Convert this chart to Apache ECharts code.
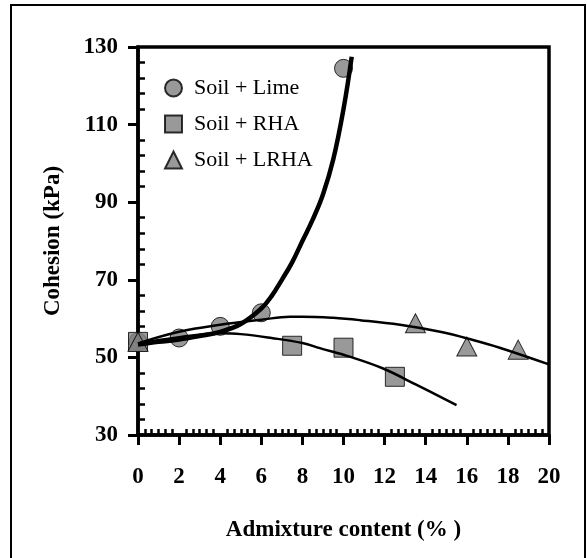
<!DOCTYPE html>
<html>
<head>
<meta charset="utf-8">
<script src="https://cdn.jsdelivr.net/npm/echarts@6/dist/echarts.min.js"></script>
<style>
  html, body { margin: 0; padding: 0; background: #fff; }
  #chart { width: 587px; height: 558px; }
</style>
</head>
<body>
<div id="chart"></div>
<script>
// Measured cohesion values by admixture content
const limeX = [0, 2, 4, 6, 10];
const limeY = [54, 55, 58, 61.5, 124.5];
const rhaX = [0, 7.5, 10, 12.5];
const rhaY = [54, 53, 52.5, 45];
const lrhaX = [0, 13.5, 16, 18.5];
const lrhaY = [54, 58.8, 52.8, 52];

// Fitted trend curves
const limeFitX = [0, 1, 2, 3, 4, 5, 6, 6.5, 7, 7.5, 8, 8.5, 9, 9.5, 10, 10.4];
const limeFitY = [53.3, 54.0, 54.6, 55.5, 56.6, 58.6, 62.6, 65.8, 70, 74.5, 80, 85.5, 92, 101, 114, 127.5];
const rhaFitX = [0, 2, 4, 5, 6.5, 8, 8.85, 10.3, 11.9, 13.56, 15.5];
const rhaFitY = [53.6, 55.2, 56.2, 56, 55, 53.7, 52.4, 50.2, 47.2, 42.9, 37.7];
const lrhaFitX = [0, 2, 4, 6, 7.4, 8, 9.5, 10.8, 12.75, 14.7, 16.3, 17.6, 20];
const lrhaFitY = [53.6, 56.6, 58.4, 59.7, 60.5, 60.5, 60.2, 59.6, 58.4, 56.6, 54.5, 52.5, 48.2];

// Axis ticks
const xTicks = [0, 2, 4, 6, 8, 10, 12, 14, 16, 18, 20];
const yTicks = [30, 50, 70, 90, 110, 130];

const seriesNames = ['Soil + Lime', 'Soil + RHA', 'Soil + LRHA'];

const zip = (xs, ys) => xs.map((x, i) => [x, ys[i]]);

const FONT = 'Liberation Serif';
const GRAY = '#808080';

const markerStyle = { color: GRAY, borderColor: '#000', borderWidth: 1 };

const chart = echarts.init(document.getElementById('chart'), null, { renderer: 'canvas' });

const xStep = xTicks[1] - xTicks[0];
const yStep = yTicks[1] - yTicks[0];

chart.setOption({
  animation: false,
  backgroundColor: '#fff',
  graphic: [{
    type: 'rect',
    shape: { x: 11, y: 5, width: 574, height: 560 },
    style: { fill: 'none', stroke: '#000', lineWidth: 2 },
    silent: true
  }],
  grid: {
    left: 138, top: 47, right: 38, bottom: 123,
    show: true, borderColor: '#000', borderWidth: 3.5, backgroundColor: 'transparent'
  },
  legend: {
    orient: 'vertical',
    left: 159, top: 72,
    itemWidth: 17, itemHeight: 17, itemGap: 14,
    data: [
      { name: seriesNames[0], icon: 'circle' },
      { name: seriesNames[1], icon: 'rect' },
      { name: seriesNames[2], icon: 'triangle' }
    ],
    textStyle: { fontFamily: FONT, fontSize: 22, color: '#000', padding: [0, 0, 0, 7] }
  },
  xAxis: [{
    type: 'value',
    min: xTicks[0], max: xTicks[xTicks.length - 1], interval: xStep,
    name: 'Admixture content (% )',
    nameLocation: 'middle', nameGap: 84,
    nameTextStyle: { fontFamily: FONT, fontSize: 23, fontWeight: 'bold', color: '#000' },
    axisLine: { show: true, lineStyle: { color: '#000', width: 3.5 } },
    axisTick: { show: true, inside: false, length: 10, lineStyle: { color: '#000', width: 3 } },
    axisLabel: { margin: 31, fontFamily: FONT, fontSize: 23, fontWeight: 'bold', color: '#000' },
    splitLine: { show: false }
  }, {
    type: 'value',
    min: xTicks[0], max: xTicks[xTicks.length - 1], interval: xStep,
    position: 'bottom',
    axisLine: { show: false },
    axisTick: { show: false, inside: true },
    minorTick: { show: true, splitNumber: 6, length: 6, lineStyle: { color: '#000', width: 2.5 } },
    axisLabel: { show: false },
    splitLine: { show: false }
  }],
  yAxis: [{
    type: 'value',
    min: yTicks[0], max: yTicks[yTicks.length - 1], interval: yStep,
    name: 'Cohesion (kPa)',
    nameLocation: 'middle', nameGap: 73, nameRotate: 90,
    nameTextStyle: { fontFamily: FONT, fontSize: 23, fontWeight: 'bold', color: '#000' },
    axisLine: { show: true, lineStyle: { color: '#000', width: 3.5 } },
    axisTick: { show: true, inside: false, length: 10, lineStyle: { color: '#000', width: 3 } },
    axisLabel: { margin: 20, fontFamily: FONT, fontSize: 23, fontWeight: 'bold', color: '#000' },
    splitLine: { show: false }
  }, {
    type: 'value',
    min: yTicks[0], max: yTicks[yTicks.length - 1], interval: yStep,
    position: 'left',
    axisLine: { show: false },
    axisTick: { show: false, inside: true },
    minorTick: { show: true, splitNumber: 5, length: 7, lineStyle: { color: '#000', width: 2.5 } },
    axisLabel: { show: false },
    splitLine: { show: false }
  }],
  series: [
    {
      name: seriesNames[0], type: 'scatter', symbol: 'circle', symbolSize: 18,
      itemStyle: markerStyle, z: 2, data: zip(limeX, limeY)
    },
    {
      name: seriesNames[1], type: 'scatter', symbol: 'rect', symbolSize: 19,
      itemStyle: markerStyle, z: 3, data: zip(rhaX, rhaY)
    },
    {
      name: seriesNames[2], type: 'scatter', symbol: 'triangle', symbolSize: [20, 19],
      itemStyle: markerStyle, z: 4, data: zip(lrhaX, lrhaY)
    },
    {
      type: 'line', showSymbol: false, symbol: 'none', smooth: 0.4, z: 6,
      lineStyle: { color: '#000', width: 2.5 }, data: zip(rhaFitX, rhaFitY)
    },
    {
      type: 'line', showSymbol: false, symbol: 'none', smooth: 0.4, z: 6,
      lineStyle: { color: '#000', width: 2.5 }, data: zip(lrhaFitX, lrhaFitY)
    },
    {
      type: 'line', showSymbol: false, symbol: 'none', smooth: 0.4, z: 7,
      lineStyle: { color: '#000', width: 4.5 }, data: zip(limeFitX, limeFitY)
    }
  ]
});
</script>
</body>
</html>
